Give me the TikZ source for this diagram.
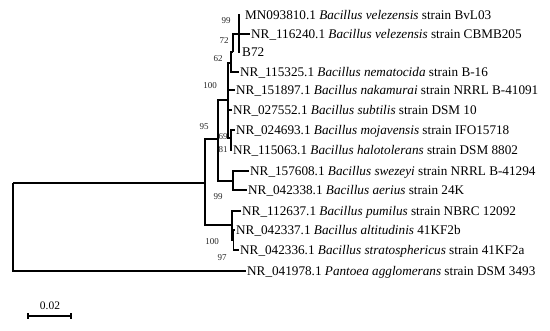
\documentclass[tikz,border=0pt]{standalone}
\usepackage{fontspec}
\setmainfont{Liberation Serif}
\begin{document}
\begin{tikzpicture}[x=1pt,y=-1pt,
  branch/.style={line width=1.1pt,black},
  leaf/.style={anchor=west,inner ysep=0pt,inner xsep=1.5pt,text height=9pt,text depth=0pt,font=\fontsize{13.2}{15}\selectfont},
  boot/.style={inner sep=0pt,font=\fontsize{9}{10}\selectfont,text=black!85},
  scalelbl/.style={inner sep=0pt,font=\fontsize{11.5}{12}\selectfont}]
\useasboundingbox (0,0) rectangle (550,331);
% leaves (west anchor = line end)
\node[leaf,inner xsep=5.5pt] (L1) at (239.5,15) {MN093810.1 \textit{Bacillus velezensis} strain BvL03};
\node[leaf] (L2) at (249.5,34) {NR\_116240.1 \textit{Bacillus velezensis} strain CBMB205};
\node[leaf,inner xsep=2.5pt] (L3) at (239.5,52) {B72};
\node[leaf] (L4) at (238.5,72) {NR\_115325.1 \textit{Bacillus nematocida} strain B-16};
\node[leaf] (L5) at (234.5,90) {NR\_151897.1 \textit{Bacillus nakamurai} strain NRRL B-41091};
\node[leaf] (L6) at (231.5,110) {NR\_027552.1 \textit{Bacillus subtilis} strain DSM 10};
\node[leaf] (L7) at (234.5,130) {NR\_024693.1 \textit{Bacillus mojavensis} strain IFO15718};
\node[leaf] (L8) at (231.5,150) {NR\_115063.1 \textit{Bacillus halotolerans} strain DSM 8802};
\node[leaf] (L9) at (248.5,171) {NR\_157608.1 \textit{Bacillus swezeyi} strain NRRL B-41294};
\node[leaf] (L10) at (246.5,190) {NR\_042338.1 \textit{Bacillus aerius} strain 24K};
\node[leaf] (L11) at (240.5,211) {NR\_112637.1 \textit{Bacillus pumilus} strain NBRC 12092};
\node[leaf] (L12) at (234.5,230) {NR\_042337.1 \textit{Bacillus altitudinis} 41KF2b};
\node[leaf] (L13) at (238.5,250) {NR\_042336.1 \textit{Bacillus stratosphericus} strain 41KF2a};
\node[leaf] (L14) at (245.5,271) {NR\_041978.1 \textit{Pantoea agglomerans} strain DSM 3493};
% internal nodes
\coordinate (R) at (13,183);
\coordinate (n95) at (205,183);
\coordinate (nA) at (218,139);
\coordinate (nB) at (228,100);
\coordinate (n62) at (231,63);
\coordinate (n72) at (233,52);
\coordinate (n99) at (239,34);
\coordinate (n69) at (231,138);
\coordinate (nSw) at (233,181);
\coordinate (nPum) at (232,225);
\coordinate (nStr) at (233.5,240);
% branches
\draw[branch] (R) |- (n95);
\draw[branch] (R) |- (L14.west);
\draw[branch] (n95) |- (nA);
\draw[branch] (n95) |- (nPum);
\draw[branch] (nA) |- (nB);
\draw[branch] (nA) |- (nSw);
\draw[branch] (nB) |- (n62);
\draw[branch] (nB) |- (L5.west);
\draw[branch] (nB) |- (L6.west);
\draw[branch] (nB) |- (n69);
\draw[branch] (n62) |- (n72);
\draw[branch] (n62) |- (L4.west);
\draw[branch] (n72) |- (n99);
\draw[branch] (n72) |- (L2.west);
\draw[branch] (n99) |- (L1.west);
\draw[branch] (n99) |- (L3.west);
\draw[branch] (n69) |- (L7.west);
\draw[branch] (n69) |- (L8.west);
\draw[branch] (nSw) |- (L9.west);
\draw[branch] (nSw) |- (L10.west);
\draw[branch] (nPum) |- (L11.west);
\draw[branch] (nPum) |- (nStr);
\draw[branch] (nStr) |- (L12.west);
\draw[branch] (nStr) |- (L13.west);
% bootstrap values
\node[boot] (b1) at (226,21) {99};
\node[boot] (b2) at (224,41) {72};
\node[boot] (b3) at (218,59) {62};
\node[boot] (b4) at (210,86) {100};
\node[boot] (b5) at (204,127) {95};
\node[boot] (b6) at (223,137) {69};
\node[boot] (b7) at (223,150) {81};
\node[boot] (b8) at (218,197) {99};
\node[boot] (b9) at (212,242) {100};
\node[boot] (b10) at (222,258) {97};
% scale bar
\coordinate (s1) at (28,316);
\coordinate (s2) at (71,316);
\draw[branch] (s1) -- (s2);
\draw[branch] ([yshift=-3pt]s1) -- ([yshift=3pt]s1);
\draw[branch] ([yshift=-3pt]s2) -- ([yshift=3pt]s2);
\node[scalelbl] (sl) at (50,306) {0.02};
\end{tikzpicture}
\end{document}
